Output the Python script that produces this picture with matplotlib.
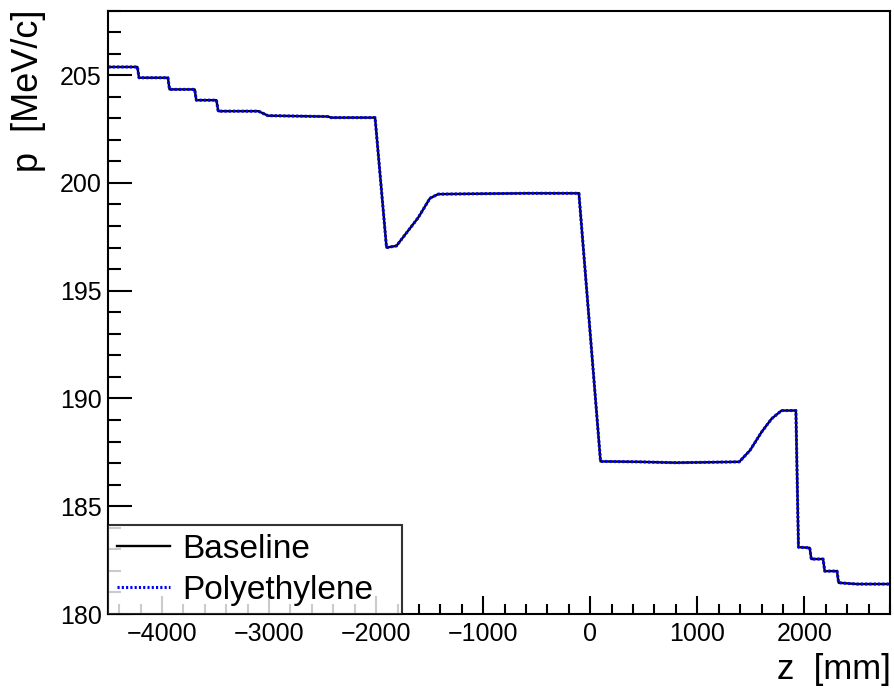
import matplotlib
matplotlib.use("Agg")
import matplotlib.pyplot as plt
from matplotlib.ticker import MultipleLocator

plt.rcParams['font.family'] = ['Liberation Sans', 'DejaVu Sans']

# momentum along z
z_mm = [-4500, -4230, -4215, -3945, -3930, -3695, -3680, -3492, -3475, -3100,
        -3010, -2450, -2420, -2010, -1903, -1810, -1607, -1497, -1420, -1000,
        -600, -106, 96, 450, 800, 1392, 1492, 1600, 1694, 1787, 1921, 1945,
        2050, 2065, 2175, 2190, 2305, 2320, 2490, 2800]
p_baseline = [205.38, 205.38, 204.88, 204.88, 204.34, 204.34, 203.84, 203.84, 203.33, 203.33,
              203.12, 203.08, 203.03, 203.03, 197.00, 197.08, 198.39, 199.29, 199.48, 199.50,
              199.52, 199.52, 187.08, 187.06, 187.02, 187.06, 187.59, 188.44, 189.06, 189.44,
              189.44, 183.10, 183.07, 182.55, 182.55, 181.99, 181.99, 181.45, 181.39, 181.39]
p_polyethylene = [205.38, 205.38, 204.88, 204.88, 204.34, 204.34, 203.84, 203.84, 203.33, 203.33,
                  203.12, 203.08, 203.03, 203.03, 197.00, 197.08, 198.39, 199.29, 199.48, 199.50,
                  199.52, 199.52, 187.08, 187.06, 187.02, 187.06, 187.59, 188.44, 189.06, 189.44,
                  189.44, 183.10, 183.07, 182.55, 182.55, 181.99, 181.99, 181.45, 181.39, 181.39]

fig = plt.figure(figsize=(8.95, 6.93), dpi=100)
ax = fig.add_axes([108.5/895, 79/693, 781.5/895, 603.5/693])

ax.plot(z_mm, p_baseline, color='black', lw=1.7, label='Baseline')
ax.plot(z_mm, p_polyethylene, color='blue', lw=2.2, ls=(0, (0.7, 0.7)), label='Polyethylene')

ax.set_xlim(-4500, 2800)
ax.set_ylim(180, 208)
ax.xaxis.set_major_locator(MultipleLocator(1000))
ax.xaxis.set_minor_locator(MultipleLocator(200))
ax.yaxis.set_major_locator(MultipleLocator(5))
ax.yaxis.set_minor_locator(MultipleLocator(1))
ax.tick_params(which='both', direction='in', width=1.5, labelsize=18)
ax.tick_params(axis='y', which='major', length=17, pad=5)
ax.tick_params(axis='y', which='minor', length=9)
ax.tick_params(axis='x', which='major', length=13, pad=6)
ax.tick_params(axis='x', which='minor', length=7)
for s in ax.spines.values():
    s.set_linewidth(1.5)

fig.text(891/895, 1 - 686/693, 'z  [mm]', ha='right', va='bottom', fontsize=25)
fig.text(11/895, 1 - 9/693, 'p  [MeV/c]', ha='left', va='top', rotation=90, fontsize=26)

leg = ax.legend(loc='lower left', bbox_to_anchor=(0, 0, 293.5/781.5, 0.15), mode='expand',
                borderaxespad=0, fancybox=False, fontsize=24, handlelength=1.6,
                handletextpad=0.35, borderpad=0.25, labelspacing=0.3)
leg.get_frame().set_edgecolor('black')
leg.get_frame().set_linewidth(1.5)

fig.savefig('out.png', dpi=100)
